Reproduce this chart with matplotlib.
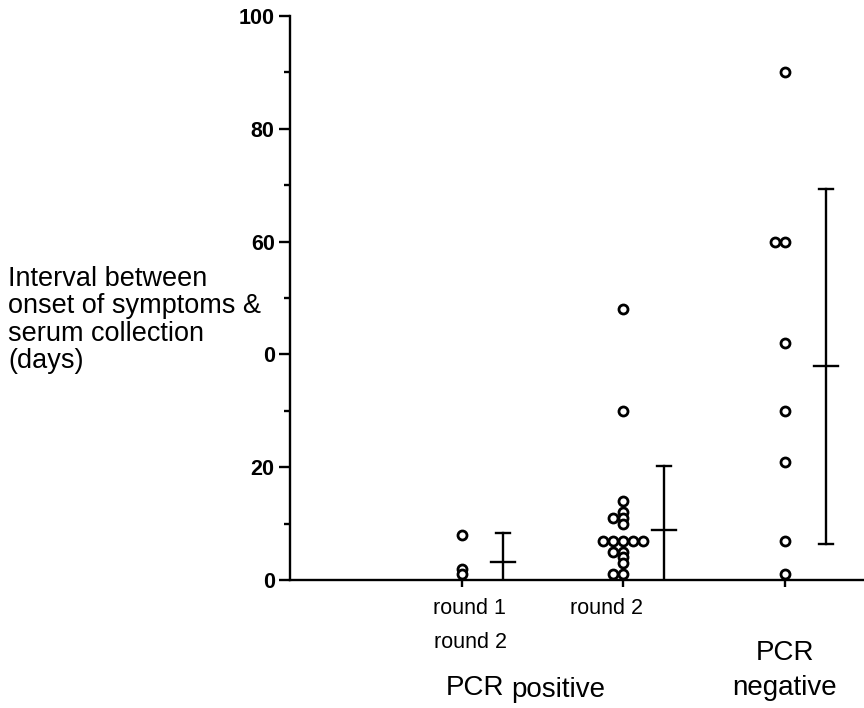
import numpy as np
import matplotlib
matplotlib.use('Agg')
import matplotlib.pyplot as plt

plt.rcParams['font.family'] = ['Liberation Sans', 'DejaVu Sans']

# dados (dias)
pcr_pos_r1r2 = [8, 2, 1]
pcr_pos_r2 = [48, 30, 14, 12, 11, 11, 10, 7, 7, 7, 7, 7, 5, 5, 4, 3, 1, 1]
pcr_neg = [90, 60, 60, 42, 30, 21, 7, 1]
grupos = [pcr_pos_r1r2, pcr_pos_r2, pcr_neg]

media = [3.2, 8.9, 37.9]
barra_sup = [8.3, 20.2, 69.3]
barra_inf = [0, 0, 6.4]

yticks = [0, 20, 40, 60, 80, 100]
ytick_labels = ['0', '20', '0', '60', '80', '100']

W, H = 864, 708
fig = plt.figure(figsize=(W / 100, H / 100), dpi=100)
ax = fig.add_axes([290 / W, 1 - 580 / H, 1 - 290 / W, (580 - 16) / H])

ax.set_xlim(-0.065, 3.49)
ax.set_ylim(0, 100)

# escala em pixels para montar o "swarm"
px_x = (W - 290) / (3.49 + 0.065)
px_y = (580 - 16) / 100.0
dx_min, dy_min = 10.0, 5.5

for i, vals in enumerate(grupos):
    xc = i + 1
    colocados = []
    xs, ys = [], []
    for v in sorted(vals, reverse=True):
        yp = v * px_y
        for k in range(0, 60):
            for s in ([0] if k == 0 else [-k, k]):
                ok = all(((s - a) / dx_min) ** 2 + ((yp - b) / dy_min) ** 2 >= 1
                         for a, b in colocados)
                if ok:
                    break
            if ok:
                break
        colocados.append((s, yp))
        xs.append(xc + s / px_x)
        ys.append(v)
    ax.plot(xs, ys, 'o', ms=6.5, mfc='white', mec='black', mew=2.0, clip_on=False, zorder=3)

# barras de média e desvio
off = 41 / px_x
cap = 7 / px_x
mlen = 12 / px_x
for i in range(3):
    xb = i + 1 + off
    ax.plot([xb, xb], [barra_inf[i], barra_sup[i]], color='black', lw=1.7)
    ax.plot([xb - cap, xb + cap], [barra_sup[i], barra_sup[i]], color='black', lw=1.7)
    if barra_inf[i] > 0:
        ax.plot([xb - cap, xb + cap], [barra_inf[i], barra_inf[i]], color='black', lw=1.7)
    ax.plot([xb - mlen, xb + mlen], [media[i], media[i]], color='black', lw=1.7)

ax.spines['top'].set_visible(False)
ax.spines['right'].set_visible(False)
ax.spines['left'].set_linewidth(1.7)
ax.spines['bottom'].set_linewidth(1.7)

ax.set_yticks(yticks)
ax.set_yticklabels(ytick_labels, fontsize=15.5, fontweight='bold')
ax.set_yticks([10, 30, 50, 70, 90], minor=True)
ax.tick_params(axis='y', which='major', length=8, width=1.7, direction='out', pad=3)
ax.tick_params(axis='y', which='minor', length=4, width=1.7, direction='out')
ax.set_xticks([1, 2, 3])
ax.set_xticklabels([])
ax.tick_params(axis='x', length=5, width=1.7, direction='out')

def ftext(x, y, s, **kw):
    fig.text(x / W, 1 - y / H, s, **kw)

ftext(8, 320, 'Interval between\nonset of symptoms &\nserum collection\n(days)',
      fontsize=19.5, ha='left', va='center', linespacing=1.07)

ftext(469, 608, 'round 1', fontsize=15.5, ha='center', va='center')
ftext(470, 642, 'round 2', fontsize=15.5, ha='center', va='center')
ftext(607, 608, 'round 2', fontsize=15.5, ha='center', va='center')
ftext(475, 688, 'PCR', fontsize=20, ha='center', va='center')
ftext(558, 690, 'positive', fontsize=20, ha='center', va='center')
ftext(785, 653, 'PCR', fontsize=20, ha='center', va='center')
ftext(785, 688, 'negative', fontsize=20, ha='center', va='center')

fig.savefig('out.png', dpi=100, facecolor='white')
